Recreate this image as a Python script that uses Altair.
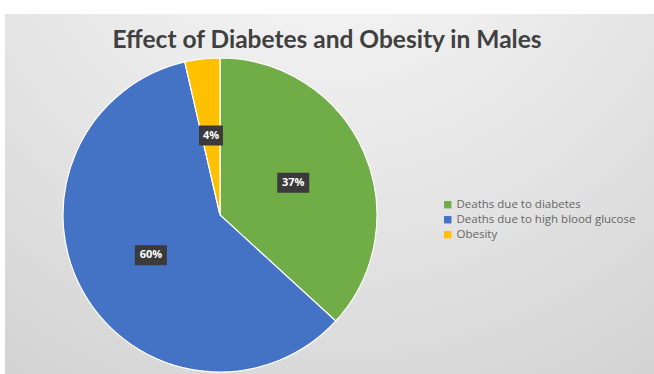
import altair as alt
import pandas as pd

categories = ["Deaths due to diabetes", "Deaths due to high blood glucose", "Obesity"]
shares = [36.8, 59.6, 3.6]
order_idx = [0, 1, 2]
colors = ["#70AD47", "#4472C4", "#FFC000"]
title_text = "Effect of Diabetes and Obesity in Males"

df = pd.DataFrame({"category": categories, "value": shares, "idx": order_idx})

W, H = 654, 374
CX, CY, R, LR = 220, 215, 157, 80

bg = alt.Chart(alt.Data(values=[{"a": 1}])).mark_rect(
    color={
        "gradient": "radial",
        "x1": 0.5, "y1": 0.0, "r1": 0.0,
        "x2": 0.5, "y2": 0.0, "r2": 1.15,
        "stops": [
            {"offset": 0, "color": "#fafafa"},
            {"offset": 0.5, "color": "#e3e3e3"},
            {"offset": 1, "color": "#c8c8c8"},
        ],
    }
).encode(x=alt.value(5), x2=alt.value(W), y=alt.value(14), y2=alt.value(H))

base = alt.Chart(df)

pie = base.mark_arc(radius=R, stroke="white", strokeWidth=1.2).encode(
    theta=alt.Theta("value:Q", stack=True),
    order=alt.Order("idx:O"),
    color=alt.Color(
        "category:N",
        scale=alt.Scale(domain=categories, range=colors),
        sort=categories,
        legend=alt.Legend(
            title=None,
            orient="none",
            legendX=442,
            legendY=199,
            symbolType="square",
            symbolSize=55,
            symbolStrokeWidth=0,
            labelFontSize=11.5,
            labelFont="Open Sans",
            labelColor="#666666",
            labelLimit=0,
            rowPadding=2,
            padding=0,
            labelOffset=3,
        ),
    ),
    x=alt.value(CX),
    y=alt.value(CY),
)

lab = base.transform_joinaggregate(total="sum(value)").transform_window(
    cum="sum(value)", sort=[alt.SortField("idx")], frame=[None, 0]
).transform_calculate(
    mid="(datum.cum - datum.value/2)/datum.total*2*PI",
    cx=f"{CX} + {LR}*sin(datum.mid)",
    cy=f"{CY} - {LR}*cos(datum.mid)",
    label="format(datum.value/datum.total, '.0%')",
    w="length(datum.label)*8 + 8",
    bx1="datum.cx - datum.w/2",
    bx2="datum.cx + datum.w/2",
    by1="datum.cy - 10",
    by2="datum.cy + 10",
)

boxes = lab.mark_rect(color="#3a3a3a").encode(
    x=alt.X("bx1:Q", scale=None),
    x2="bx2:Q",
    y=alt.Y("by1:Q", scale=None),
    y2="by2:Q",
)

texts = lab.mark_text(
    color="white", fontWeight="bold", fontSize=11, font="Open Sans", baseline="middle", align="center"
).encode(
    x=alt.X("cx:Q", scale=None),
    y=alt.Y("cy:Q", scale=None),
    text="label:N",
)

title = alt.Chart(alt.Data(values=[{"t": title_text}])).mark_text(
    font="Lato", fontWeight="bold", fontSize=24.5, color="#404040", align="center", baseline="alphabetic"
).encode(x=alt.value(327), y=alt.value(48), text="t:N")

chart = alt.layer(bg, pie, boxes, texts, title).properties(
    width=W, height=H, padding=0, autosize=alt.AutoSizeParams(type="none"),
    background="white",
).configure_view(stroke=None)

chart.save("out.html", embed_options={"renderer": "svg", "actions": False})
